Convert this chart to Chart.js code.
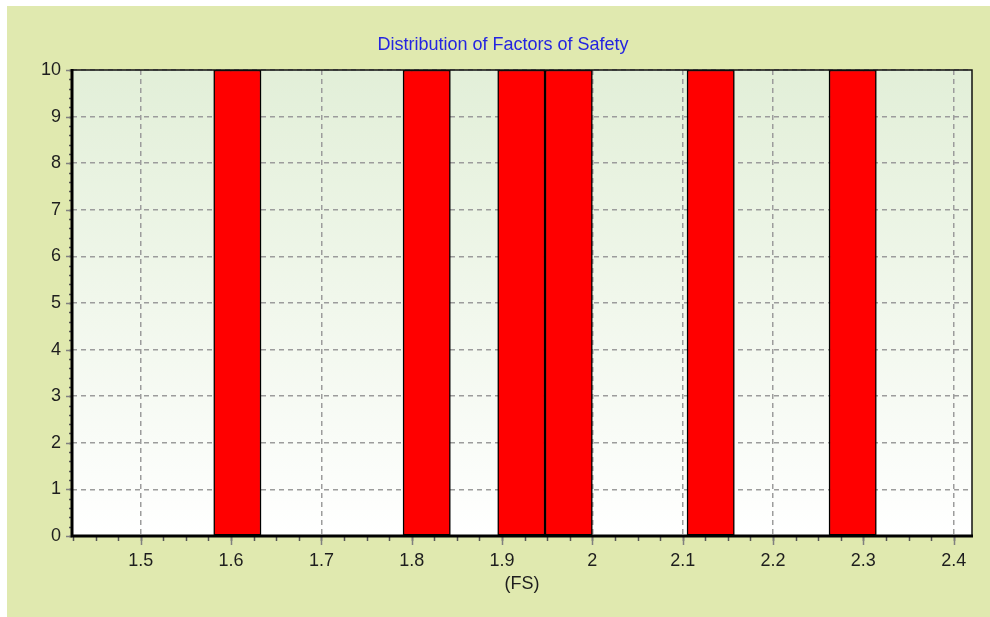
<!DOCTYPE html>
<html>
<head>
<meta charset="utf-8">
<title>Distribution of Factors of Safety</title>
<script src="https://cdn.jsdelivr.net/npm/chart.js@4.4.0/dist/chart.umd.min.js"></script>
<style>
    html, body { margin: 0; padding: 0; background: #ffffff; }
    #panel {
        position: absolute;
        left: 7px; top: 6px;
        width: 983px; height: 611px;
        background: #e0e9af;
    }
</style>
</head>
<body>
<div id="panel"><canvas id="fsChart"></canvas></div>
<script>
// ============ data ============
const binCenters = [1.607, 1.8166, 1.9214, 1.9738, 2.131, 2.2882];
const binCounts  = [10, 10, 10, 10, 10, 10];

const xTickValues = [1.5, 1.6, 1.7, 1.8, 1.9, 2.0, 2.1, 2.2, 2.3, 2.4];
const yTickValues = [0, 1, 2, 3, 4, 5, 6, 7, 8, 9, 10];
const xRange = [1.4239, 2.4203];
const yRange = [0, 10];

const chartTitle = 'Distribution of Factors of Safety';
const xAxisTitle = '(FS)';

// minor tick steps
const X_MINOR = 0.025;
const Y_MINOR = 0.2;

Chart.defaults.font.family = '"Liberation Sans", Arial, sans-serif';
Chart.defaults.font.size = 18;
Chart.defaults.color = '#1e1e1e';

// plot background: pale green fading to white
const plotBackground = {
    id: 'plotBackground',
    beforeDraw(chart) {
        const {ctx, chartArea: a} = chart;
        const g = ctx.createLinearGradient(0, a.top, 0, a.bottom);
        g.addColorStop(0, '#e2efd8');
        g.addColorStop(1, '#ffffff');
        ctx.save();
        ctx.fillStyle = g;
        ctx.fillRect(a.left, a.top, a.right - a.left, a.bottom - a.top);
        ctx.restore();
    }
};

// tick marks + frame around plot
const axisDecor = {
    id: 'axisDecor',
    afterDraw(chart) {
        const {ctx, chartArea: a, scales} = chart;
        const xs = scales.x, ys = scales.y;
        ctx.save();

        // minor ticks
        ctx.strokeStyle = '#555555';
        ctx.lineWidth = 1.5;
        ctx.beginPath();
        let start = Math.ceil(xRange[0] / X_MINOR) * X_MINOR;
        for (let v = start; v <= xRange[1] + 1e-9; v += X_MINOR) {
            const px = Math.round(xs.getPixelForValue(v)) + 0.5;
            ctx.moveTo(px, a.bottom);
            ctx.lineTo(px, a.bottom + 5);
        }
        for (let v = yRange[0]; v <= yRange[1] + 1e-9; v += Y_MINOR) {
            const py = Math.round(ys.getPixelForValue(v)) + 0.5;
            ctx.moveTo(a.left - 3, py);
            ctx.lineTo(a.left, py);
        }
        ctx.stroke();

        // major ticks
        ctx.strokeStyle = '#808080';
        ctx.beginPath();
        xTickValues.forEach(v => {
            const px = Math.round(xs.getPixelForValue(v)) + 0.5;
            ctx.moveTo(px, a.bottom);
            ctx.lineTo(px, a.bottom + 9);
        });
        yTickValues.forEach(v => {
            const py = Math.round(ys.getPixelForValue(v)) + 0.5;
            ctx.moveTo(a.left - 6, py);
            ctx.lineTo(a.left, py);
        });
        ctx.stroke();

        // frame
        ctx.strokeStyle = '#111111';
        ctx.lineWidth = 1.5;
        ctx.strokeRect(a.left, a.top, a.right - a.left, a.bottom - a.top);
        ctx.strokeStyle = '#000000';
        ctx.lineWidth = 3;
        ctx.beginPath();
        ctx.moveTo(a.left, a.top - 1);
        ctx.lineTo(a.left, a.bottom);
        ctx.lineTo(a.right + 1, a.bottom);
        ctx.stroke();

        ctx.restore();
    }
};

const ctx = document.getElementById('fsChart').getContext('2d');

new Chart(ctx, {
    type: 'bar',
    data: {
        datasets: [{
            data: binCenters.map((c, i) => ({x: c, y: binCounts[i]})),
            backgroundColor: '#ff0000',
            borderColor: '#000000',
            borderWidth: 1.5,
            borderSkipped: false,
            barPercentage: 1.0,
            categoryPercentage: 1.0
        }]
    },
    options: {
        responsive: true,
        maintainAspectRatio: false,
        animation: false,
        layout: { padding: { left: 27, right: 18, top: 0, bottom: 0 } },
        plugins: {
            legend: { display: false },
            tooltip: { enabled: false },
            title: {
                display: true,
                text: chartTitle,
                color: '#2424e0',
                font: { size: 18, weight: 'normal' },
                padding: { top: 28, bottom: 14.4 }
            }
        },
        scales: {
            x: {
                type: 'linear',
                min: xRange[0],
                max: xRange[1],
                offset: false,
                afterBuildTicks: s => { s.ticks = xTickValues.map(v => ({value: v})); },
                afterFit: s => { s.height = 81; },
                ticks: {
                    padding: 14,
                    maxRotation: 0,
                    autoSkip: false,
                    callback: v => String(+Number(v).toFixed(2))
                },
                grid: {
                    offset: false,
                    drawTicks: false,
                    color: '#9c9c9c',
                    lineWidth: 1.5
                },
                border: { display: false, dash: [5, 4] },
                title: {
                    display: true,
                    text: xAxisTitle,
                    font: { size: 18 },
                    padding: { top: 0, bottom: 22 }
                }
            },
            y: {
                min: yRange[0],
                max: yRange[1],
                afterBuildTicks: s => { s.ticks = yTickValues.map(v => ({value: v})); },
                afterFit: s => { s.width = 38; },
                ticks: { padding: 11 },
                grid: {
                    drawTicks: false,
                    color: '#9c9c9c',
                    lineWidth: 1.5
                },
                border: { display: false, dash: [5, 4] }
            }
        }
    },
    plugins: [plotBackground, axisDecor]
});
</script>
</body>
</html>
